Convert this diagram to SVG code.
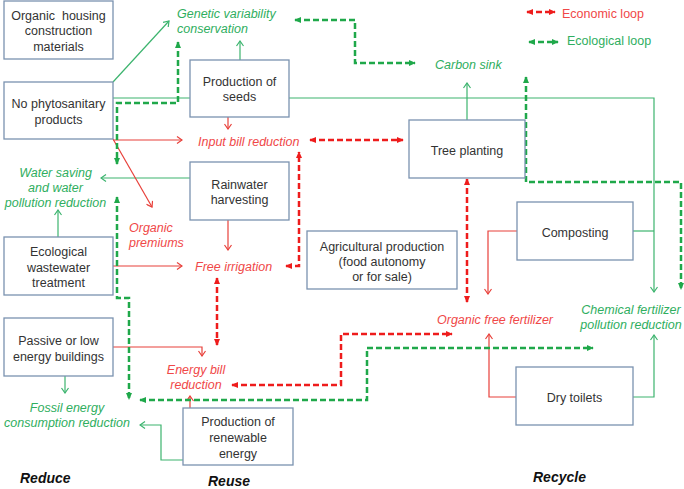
<svg xmlns="http://www.w3.org/2000/svg" width="684" height="489" viewBox="0 0 684 489">
<style>
.box{fill:#fff;stroke:#7a92b0;stroke-width:1.3}
.bt{font-family:"Liberation Sans",Arial,sans-serif;font-size:12.5px;fill:#333;text-anchor:middle}
.gl{font-family:"Liberation Sans",Arial,sans-serif;font-size:12.5px;font-style:italic;fill:#2fae60}
.rl{font-family:"Liberation Sans",Arial,sans-serif;font-size:12.5px;font-style:italic;fill:#f04848}
.sec{font-family:"Liberation Sans",Arial,sans-serif;font-size:14px;font-style:italic;font-weight:bold;fill:#111}
.sg{fill:none;stroke:#3cb46e;stroke-width:1.2;marker-end:url(#og)}
.sgn{fill:none;stroke:#3cb46e;stroke-width:1.2}
.sr{fill:none;stroke:#e8403a;stroke-width:1.2;marker-end:url(#or)}
.dr{fill:none;stroke:#ee1c1c;stroke-width:2.5;stroke-dasharray:6 3;marker-start:url(#fr);marker-end:url(#fr)}
.dg{fill:none;stroke:#1fa84a;stroke-width:2.5;stroke-dasharray:6 3;marker-start:url(#fg);marker-end:url(#fg)}
</style>
<defs>
<marker id="og" viewBox="0 0 8 8" refX="7" refY="4" markerWidth="8" markerHeight="8" markerUnits="userSpaceOnUse" orient="auto"><path d="M2,0.5 L7,4 L2,7.5" fill="none" stroke="#3cb46e" stroke-width="1.2"/></marker>
<marker id="or" viewBox="0 0 8 8" refX="7" refY="4" markerWidth="8" markerHeight="8" markerUnits="userSpaceOnUse" orient="auto"><path d="M2,0.5 L7,4 L2,7.5" fill="none" stroke="#e8403a" stroke-width="1.2"/></marker>
<marker id="fr" viewBox="0 0 8 8" refX="7" refY="4" markerWidth="7" markerHeight="7" markerUnits="userSpaceOnUse" orient="auto-start-reverse"><path d="M0,0.5 L8,4 L0,7.5 Z" fill="#ee1c1c"/></marker>
<marker id="fg" viewBox="0 0 8 8" refX="7" refY="4" markerWidth="7" markerHeight="7" markerUnits="userSpaceOnUse" orient="auto-start-reverse"><path d="M0,0.5 L8,4 L0,7.5 Z" fill="#1fa84a"/></marker>
</defs>
<rect width="684" height="489" fill="#fff"/>
<g id="connectors">
<path class="sg" d="M113,82 L169,21"/>
<path class="sg" d="M240,60 V41"/>
<path class="sg" d="M113,98 H654 V292"/>
<path class="sg" d="M467,120 V83"/>
<path class="sg" d="M190,178 H101"/>
<path class="sg" d="M58,237 V210"/>
<path class="sgn" d="M633,231 H654"/>
<path class="sg" d="M633,397 H654 V335"/>
<path class="sg" d="M65,376 V393"/>
<path class="sg" d="M183,460 H161 V425 H140"/>
<path class="sr" d="M228,117 V129"/>
<path class="sr" d="M113,140 H182"/>
<path class="sr" d="M113,139 L152,207"/>
<path class="sr" d="M228,220 V250"/>
<path class="sr" d="M113,266 H182"/>
<path class="sr" d="M113,347 H202 V356"/>
<path class="sr" d="M190,408 V396"/>
<path class="sr" d="M517,231 H488 V294"/>
<path class="sr" d="M516,397 H489 V334"/>
<path class="dr" d="M310,140 H403"/>
<path class="dr" d="M286,266 H299 V152"/>
<path class="dr" d="M217,278 V345"/>
<path class="dr" d="M467,179 V302"/>
<path class="dr" d="M232,385 H341 V334 H452"/>
<path class="dr" d="M527,12 H555"/>
<path class="dg" d="M295,20 H355 V63 H415"/>
<path class="dg" d="M178,42 V103 H117 V164"/>
<path class="dg" d="M117,197 V298 H129 V399"/>
<path class="dg" d="M140,400 H367 V348 H593"/>
<path class="dg" d="M526,77 V182 H681 V289"/>
<path class="dg" d="M529,42 H558"/>
</g>
<g id="n-housing"><rect class="box" x="4" y="1" width="109" height="58"/><text class="bt" xml:space="preserve"><tspan x="58.5" y="19.5">Organic  housing</tspan><tspan x="58.5" y="35">construction</tspan><tspan x="58.5" y="50.5">materials</tspan></text></g>
<g id="n-phyto"><rect class="box" x="4" y="82" width="109" height="57"/><text class="bt"><tspan x="58.5" y="107.5">No phytosanitary</tspan><tspan x="58.5" y="123.5">products</tspan></text></g>
<g id="n-seeds"><rect class="box" x="190" y="60" width="99" height="57"/><text class="bt"><tspan x="239.5" y="85.5">Production of</tspan><tspan x="239.5" y="100.5">seeds</tspan></text></g>
<g id="n-rain"><rect class="box" x="190" y="162" width="99" height="58"/><text class="bt"><tspan x="239.5" y="188.5">Rainwater</tspan><tspan x="239.5" y="203.5">harvesting</tspan></text></g>
<g id="n-wastewater"><rect class="box" x="4" y="237" width="109" height="58"/><text class="bt"><tspan x="58.5" y="255.5">Ecological</tspan><tspan x="58.5" y="271.5">wastewater</tspan><tspan x="58.5" y="286.5">treatment</tspan></text></g>
<g id="n-tree"><rect class="box" x="409" y="120" width="116" height="58"/><text class="bt" x="467" y="154.5">Tree planting</text></g>
<g id="n-compost"><rect class="box" x="517" y="202" width="116" height="58"/><text class="bt" x="575" y="236.5">Composting</text></g>
<g id="n-agri"><rect class="box" x="307" y="231" width="150" height="58"/><text class="bt"><tspan x="382" y="250.5">Agricultural production</tspan><tspan x="382" y="265.5">(food autonomy</tspan><tspan x="382" y="280.5">or for sale)</tspan></text></g>
<g id="n-passive"><rect class="box" x="4" y="318" width="109" height="58"/><text class="bt"><tspan x="58.5" y="344.5">Passive or low</tspan><tspan x="58.5" y="360.5">energy buildings</tspan></text></g>
<g id="n-renew"><rect class="box" x="183" y="408" width="110" height="57"/><text class="bt"><tspan x="238" y="425.5">Production of</tspan><tspan x="238" y="441.5">renewable</tspan><tspan x="238" y="457.5">energy</tspan></text></g>
<g id="n-toilets"><rect class="box" x="516" y="367" width="117" height="58"/><text class="bt" x="574.5" y="401.5">Dry toilets</text></g>
<g id="labels">
<text class="gl"><tspan x="177" y="17.5">Genetic variability</tspan><tspan x="177" y="32.5">conservation</tspan></text>
<text class="gl" x="435" y="68.5">Carbon sink</text>
<text class="rl" x="562" y="17.5" style="font-style:normal">Economic loop</text>
<text class="gl" x="567" y="44.5" style="font-style:normal">Ecological loop</text>
<text class="rl" x="198" y="145.5">Input bill reduction</text>
<text class="gl" text-anchor="middle"><tspan x="55.5" y="176.5">Water saving</tspan><tspan x="55.5" y="191.5">and water</tspan><tspan x="55.5" y="206.5">pollution reduction</tspan></text>
<text class="rl"><tspan x="129" y="231.5">Organic</tspan><tspan x="129" y="246.5">premiums</tspan></text>
<text class="rl" x="195" y="270.5">Free irrigation</text>
<text class="rl" x="437" y="323.5">Organic free fertilizer</text>
<text class="gl" text-anchor="middle"><tspan x="631" y="313.5">Chemical fertilizer</tspan><tspan x="631" y="328.5">pollution reduction</tspan></text>
<text class="rl" text-anchor="middle"><tspan x="196" y="373.5">Energy bill</tspan><tspan x="196" y="388.5">reduction</tspan></text>
<text class="gl" text-anchor="middle"><tspan x="67" y="411.5">Fossil energy</tspan><tspan x="67" y="426.5">consumption reduction</tspan></text>
<text class="sec" x="20" y="483">Reduce</text>
<text class="sec" x="208" y="486">Reuse</text>
<text class="sec" x="533" y="482">Recycle</text>
</g>
</svg>
